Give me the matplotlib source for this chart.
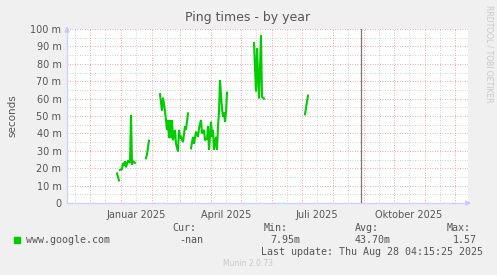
import numpy as np
import pandas as pd
import matplotlib
matplotlib.use("Agg")
import matplotlib.pyplot as plt
import matplotlib.dates as mdates

# ping times (ms), gaps between segments are missing data
seg_dates = [
    ["2024-12-28", "2024-12-30"],
    ["2024-12-31", "2025-01-02", "2025-01-03", "2025-01-04", "2025-01-05", "2025-01-06",
     "2025-01-08", "2025-01-10", "2025-01-11", "2025-01-12", "2025-01-13", "2025-01-15"],
    ["2025-01-26", "2025-01-27", "2025-01-29"],
    ["2025-02-09", "2025-02-11", "2025-02-12", "2025-02-14", "2025-02-16", "2025-02-17",
     "2025-02-18", "2025-02-19", "2025-02-20", "2025-02-21", "2025-02-22", "2025-02-24",
     "2025-02-25", "2025-02-27", "2025-02-28", "2025-03-01", "2025-03-02", "2025-03-04",
     "2025-03-06", "2025-03-07", "2025-03-09"],
    ["2025-03-12", "2025-03-14", "2025-03-15", "2025-03-17", "2025-03-19", "2025-03-20",
     "2025-03-22", "2025-03-23", "2025-03-25", "2025-03-26", "2025-03-28", "2025-03-29",
     "2025-03-30", "2025-04-01", "2025-04-02", "2025-04-03", "2025-04-04", "2025-04-06",
     "2025-04-07", "2025-04-08", "2025-04-09", "2025-04-10", "2025-04-11", "2025-04-12",
     "2025-04-13", "2025-04-14", "2025-04-15", "2025-04-16", "2025-04-17"],
    ["2025-05-14", "2025-05-16", "2025-05-17", "2025-05-19", "2025-05-21", "2025-05-22",
     "2025-05-24"],
    ["2025-07-04", "2025-07-07"],
]
seg_values = [
    [17, 13],
    [19, 19.5, 23, 21.5, 24, 20.5, 24.5, 23, 50.6, 22, 24, 23],
    [25.7, 28, 35.8],
    [62.6, 53, 60.5, 53, 42, 47.7, 37.3, 47.7, 37.3, 47.7, 36, 42,
     34, 29.5, 42, 37.3, 38, 35, 44, 42, 51.5],
    [31.4, 38, 34, 41, 38, 43, 47.7, 40, 42, 36, 37, 44,
     30.5, 46.7, 38, 42, 30.5, 38, 30.5, 44, 52, 70.7, 62, 54.4,
     49.6, 52, 46.7, 52, 63.4],
    [92, 64, 89, 60, 96.5, 61, 60],
    [51, 61.7],
]

month_labels = ["Januar 2025", "April 2025", "Juli 2025", "Oktober 2025"]
label_pos = ["2025-01-16", "2025-04-16", "2025-07-16", "2025-10-16"]
y_ticks = [0, 10, 20, 30, 40, 50, 60, 70, 80, 90, 100]
y_tick_labels = ["0", "10 m", "20 m", "30 m", "40 m", "50 m", "60 m", "70 m", "80 m", "90 m", "100 m"]

x_start = pd.Timestamp("2024-11-08")
x_end = pd.Timestamp("2025-12-14")
now = pd.Timestamp("2025-08-29")

legend_name = "www.google.com"
cur_val, min_val, avg_val, max_val = "-nan", "7.95m", "43.70m", "1.57"

bg = "#F0F0F0"
txt = "#555555"
fig = plt.figure(figsize=(4.97, 2.75), dpi=100, facecolor=bg)
ax = fig.add_axes([67 / 497, 1 - 203 / 275, 401 / 497, 174 / 275])
ax.set_facecolor("white")

# gridlines
for v in np.arange(5, 100, 10):
    ax.axhline(v, color="#C0C0C0", lw=0.6, ls=(0, (1, 2)), zorder=1)
for v in y_ticks[1:]:
    ax.axhline(v, color="#E09090", lw=0.6, ls=(0, (1, 2)), zorder=1)
months = pd.date_range("2024-12-01", "2025-12-01", freq="MS")
for m in months:
    ax.axvline(m + pd.Timedelta(days=15), color="#C0C0C0", lw=0.6, ls=(0, (1, 2)), zorder=1)
    ax.axvline(m, color="#E09090", lw=0.6, ls=(0, (1, 2)), zorder=1)
ax.axvline(pd.Timestamp("2024-11-16"), color="#C0C0C0", lw=0.6, ls=(0, (1, 2)), zorder=1)

ax.axvline(now, color="#777777", lw=0.9, zorder=3)

for d, v in zip(seg_dates, seg_values):
    ax.plot(pd.to_datetime(d), np.array(v), color="#00CC00", lw=1.5, zorder=4,
            solid_joinstyle="miter")

ax.set_xlim(x_start, x_end)
ax.set_ylim(0, 100)
ax.set_yticks(y_ticks)
ax.set_yticklabels(y_tick_labels)
ax.set_xticks(pd.to_datetime(label_pos))
ax.set_xticklabels(month_labels)
ax.tick_params(length=0, labelsize=7, colors=txt, pad=5)
ax.tick_params(axis="y", pad=4)

for s in ["top", "right"]:
    ax.spines[s].set_visible(False)
for s in ["left", "bottom"]:
    ax.spines[s].set_color("#D0D0FF")
    ax.spines[s].set_linewidth(1)

# arrows at axis ends
ax.annotate("", xy=(1.015, 0), xytext=(0.99, 0), xycoords="axes fraction",
            arrowprops=dict(arrowstyle="-|>", color="#C8C8FF", lw=1, mutation_scale=7),
            annotation_clip=False)
ax.annotate("", xy=(0, 1.03), xytext=(0, 0.99), xycoords="axes fraction",
            arrowprops=dict(arrowstyle="-|>", color="#C8C8FF", lw=1, mutation_scale=7),
            annotation_clip=False)

fig.text(248 / 497, 1 - 18 / 275, "Ping times - by year", ha="center", va="center",
         fontsize=9, color=txt)
fig.text(12 / 497, 1 - 116 / 275, "seconds", rotation=90, ha="center", va="center",
         fontsize=7.5, color=txt)
fig.text(489 / 497, 1 - 54 / 275, "RRDTOOL / TOBI OETIKER", rotation=270, ha="center",
         va="center", fontsize=5.5, color="#C8C8C8")

mono = "DejaVu Sans Mono"
fs = 7.2
fig.patches.append(plt.Rectangle((14 / 497, 1 - 243 / 275), 6 / 497, 6 / 275,
                                 transform=fig.transFigure, color="#00CC00"))
def put(x, y, s):
    fig.text(x / 497, 1 - y / 275, s, ha="left", va="center", fontsize=fs,
             family=mono, color=txt)
put(26, 240, legend_name)
put(172, 228, "Cur:")
put(179, 240, cur_val)
put(264, 228, "Min:")
put(270, 240, min_val)
put(355, 228, "Avg:")
put(355, 240, avg_val)
put(447, 228, "Max:")
put(453, 240, max_val)
put(261, 252, "Last update: Thu Aug 28 04:15:25 2025")
fig.text(248 / 497, 1 - 264 / 275, "Munin 2.0.73", ha="center", va="center",
         fontsize=5.5, color="#C8C8C8")

fig.savefig("out.png", dpi=100, facecolor=bg)
